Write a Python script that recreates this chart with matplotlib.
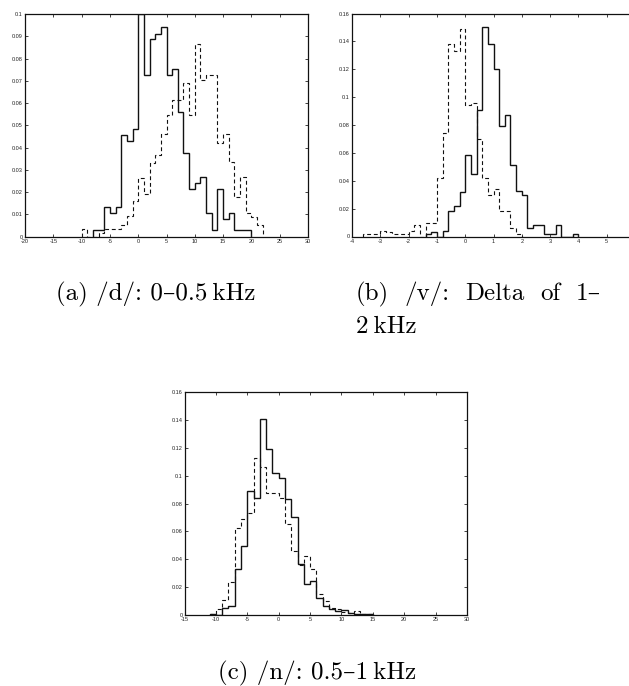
import matplotlib
matplotlib.use("Agg")
import matplotlib.pyplot as plt
import numpy as np

W, H = 629, 686

# (a) /d/ : 0-0.5 kHz, bins of width 1
a_solid_start = -8
a_solid = [0.0028, 0.0028, 0.0135, 0.0108, 0.0135, 0.0457, 0.0428, 0.0485, 0.1, 0.0724,
           0.0886, 0.0912, 0.094, 0.0724, 0.0751, 0.0562, 0.0375, 0.0214, 0.0241, 0.0268,
           0.0108, 0.0028, 0.0216, 0.0081, 0.0108, 0.0028, 0.0028, 0.0028]
a_dash_start = -10
a_dash = [0.0035, 0, 0, 0.0018, 0.0035, 0.0035, 0.0035, 0.0051, 0.0092, 0.0159,
          0.0264, 0.0192, 0.0333, 0.0369, 0.0459, 0.0547, 0.0616, 0.0616, 0.0688, 0.0546,
          0.0865, 0.0705, 0.0725, 0.0725, 0.0422, 0.046, 0.0336, 0.0178, 0.0266, 0.0108,
          0.0087, 0.0051]

# (b) /v/ : delta of 1-2 kHz, bins of width 0.2
b_solid_start = -1.4
b_solid = [0.0015, 0.0035, 0, 0.004, 0.018, 0.022, 0.032, 0.0585, 0.0445, 0.091,
           0.15, 0.138, 0.12, 0.079, 0.087, 0.051, 0.0323, 0.030, 0.006, 0.008,
           0.008, 0.002, 0.002, 0.008, 0, 0, 0.002]
b_dash_start = -3.6
b_dash = [0.002, 0.002, 0.002, 0.004, 0.003, 0.002, 0.002, 0.002, 0.004, 0.008,
          0, 0.010, 0.010, 0.042, 0.074, 0.138, 0.133, 0.149, 0.094, 0.096,
          0.070, 0.042, 0.030, 0.034, 0.018, 0.018, 0.006, 0.002]

# (c) /n/ : 0.5-1 kHz, bins of width 1
c_solid_start = -11
c_solid = [0.001, 0, 0.0048, 0.0067, 0.033, 0.0497, 0.089, 0.084, 0.1405, 0.119,
           0.102, 0.098, 0.083, 0.070, 0.0366, 0.0222, 0.0246, 0.0122, 0.0065, 0.004,
           0.0026, 0.0036, 0.0015, 0.001, 0.001, 0.0005]
c_dash_start = -11
c_dash = [0.001, 0.004, 0.0105, 0.0234, 0.0624, 0.069, 0.0734, 0.1126, 0.106, 0.0878,
          0.0878, 0.0837, 0.0655, 0.046, 0.0356, 0.042, 0.0328, 0.0148, 0.010, 0.0048,
          0.004, 0.002, 0.0015, 0.003, 0.001, 0.001]

cap_a = '(a) /d/: 0\u20130.5\u2009kHz'
cap_b1 = ['(b)', '/v/:', 'Delta', 'of', '1\u2013']
cap_b2 = '2\u2009kHz'
cap_c = '(c) /n/: 0.5\u20131\u2009kHz'

cap_font = ['cmr10', 'DejaVu Serif']


def edges(start, n, width):
	return start + width * np.arange(n + 1)


def panel(fig, box, solid, s_start, dash, d_start, width, xlim, xticks, ylim, yticks):
	l, t, r, b = box
	ax = fig.add_axes([l / W, 1 - b / H, (r - l) / W, (b - t) / H])
	ax.stairs(solid, edges(s_start, len(solid), width), color='#111111', lw=1.0, baseline=0)
	ax.stairs(dash, edges(d_start, len(dash), width), color='#111111', lw=0.8,
			  linestyle=(0, (3.5, 2.5)), baseline=0)
	ax.set_xlim(xlim)
	ax.set_ylim(ylim)
	ax.set_xticks(xticks)
	ax.set_yticks(yticks)
	ax.set_xticklabels(['%g' % v for v in xticks])
	ax.set_yticklabels(['%g' % v for v in yticks])
	ax.tick_params(direction='in', top=True, right=True, length=2, width=0.6,
				   labelsize=4, pad=1.5, colors='#222222')
	for s in ax.spines.values():
		s.set_linewidth(0.9)
		s.set_color('#111111')
	return ax


def main():
	plt.rcParams['axes.unicode_minus'] = False
	plt.rcParams['font.family'] = ['Liberation Sans', 'DejaVu Sans']
	fig = plt.figure(figsize=(W / 100, H / 100), dpi=100)

	panel(fig, (25, 14, 308, 236.7), a_solid, a_solid_start, a_dash, a_dash_start, 1,
		  (-20, 30), np.arange(-20, 31, 5), (0, 0.1), np.arange(0, 0.101, 0.01).round(2))
	bx = panel(fig, (352, 13.5, 635, 236.5), b_solid, b_solid_start, b_dash, b_dash_start, 0.2,
		  (-4, 6), np.arange(-4, 6, 1), (0, 0.16), np.arange(0, 0.161, 0.02).round(2))
	panel(fig, (184.5, 392, 467, 615), c_solid, c_solid_start, c_dash, c_dash_start, 1,
		  (-15, 30), np.arange(-15, 31, 5), (0, 0.16), np.arange(0, 0.161, 0.02).round(2))

	fs = 18
	fig.text(56 / W, 1 - 300 / H, cap_a, family=cap_font, fontsize=fs, va='baseline')
	fig.text(218 / W, 1 - 679 / H, cap_c, family=cap_font, fontsize=fs, va='baseline')
	fig.text(356 / W, 1 - 333 / H, cap_b2, family=cap_font, fontsize=fs, va='baseline')

	# justified first line of caption (b), from 356 px to 601 px
	rend = fig.canvas.get_renderer()
	words = [fig.text(0, 1 - 300 / H, w, family=cap_font, fontsize=fs, va='baseline') for w in cap_b1]
	widths = [t.get_window_extent(rend).width for t in words]
	gap = (601 - 356 - sum(widths)) / (len(words) - 1)
	x = 356
	for t, w in zip(words, widths):
		t.set_x(x / W)
		x += w + gap

	fig.savefig('out.png', dpi=100)


main()
